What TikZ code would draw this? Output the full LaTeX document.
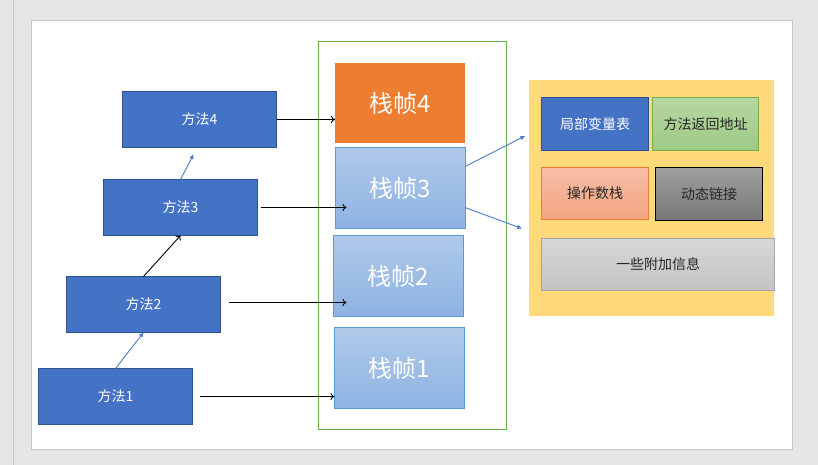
\documentclass[tikz,border=0pt]{standalone}
\usepackage{fontspec}
\setmainfont{Noto Sans CJK SC}
\usetikzlibrary{arrows.meta}
\definecolor{bggray}{HTML}{E6E6E6}
\definecolor{pageline}{HTML}{C8C8C8}
\definecolor{mblue}{HTML}{4472C4}
\definecolor{mborder}{HTML}{2F528F}
\definecolor{fgreen}{HTML}{70AD47}
\definecolor{forange}{HTML}{ED7D31}
\definecolor{ftop}{HTML}{AFC9E9}
\definecolor{fbot}{HTML}{8EB3E2}
\definecolor{fborder}{HTML}{5B9BD5}
\definecolor{infoyellow}{HTML}{FFD97A}
\definecolor{gtop}{HTML}{B6D7A3}
\definecolor{gbot}{HTML}{9ECA84}
\definecolor{otop}{HTML}{F7BEA6}
\definecolor{obot}{HTML}{F3A481}
\definecolor{dtop}{HTML}{A0A0A0}
\definecolor{dbot}{HTML}{777777}
\definecolor{ltop}{HTML}{D7D7D7}
\definecolor{lbot}{HTML}{C3C3C3}
\definecolor{lborder}{HTML}{A5A5A5}
\definecolor{arrowblue}{HTML}{4A7BD0}
\tikzset{
  rbox/.style={anchor=north west, inner sep=0pt, outer sep=0pt, line width=1pt, align=center},
  method/.style={rbox, fill=mblue, draw=mborder, text=white, font=\fontsize{14}{16}\selectfont},
  frame/.style={rbox, top color=ftop, bottom color=fbot, draw=fborder, text=white, font=\fontsize{24}{28}\selectfont},
  part/.style={rbox, font=\fontsize{14}{16}\selectfont},
  blackarr/.style={-{To[length=4pt,width=7pt]}, line width=0.9pt, black},
  bluearr/.style={-{Triangle[length=4.5pt,width=4pt]}, line width=0.9pt, arrowblue},
}
\begin{document}
\begin{tikzpicture}[x=1pt,y=-1pt]
\fill[bggray] (0,0) rectangle (818,465);
\useasboundingbox (0,0) rectangle (818,465);
\draw[pageline, line width=1pt] (13.5,0) -- (13.5,465);
\draw[pageline, fill=white, line width=1pt] (31.5,20.5) rectangle (792.5,449.5);
% stack container
\draw[fgreen, line width=1pt] (318.5,41.5) rectangle (506.5,429.5);
% methods
\node[method, minimum width=154pt, minimum height=56pt] (m4) at (122.5,91.5) {方法4};
\node[method, minimum width=154pt, minimum height=56pt] (m3) at (103.5,179.5) {方法3};
\node[method, minimum width=154pt, minimum height=56pt] (m2) at (66.5,276.5) {方法2};
\node[method, minimum width=154pt, minimum height=56pt] (m1) at (38.5,368.5) {方法1};
% frames
\node[rbox, fill=forange, text=white, font=\fontsize{24}{28}\selectfont, minimum width=130pt, minimum height=80pt] (f4) at (335,63.5) {栈帧4};
\node[frame, minimum width=130pt, minimum height=81pt] (f3) at (335.5,147.5) {栈帧3};
\node[frame, minimum width=130pt, minimum height=81pt] (f2) at (333.5,235.5) {栈帧2};
\node[frame, minimum width=130pt, minimum height=81pt] (f1) at (334.5,327.5) {栈帧1};
% info box
\node[rbox, fill=infoyellow, minimum width=245pt, minimum height=236pt] (info) at (529,80) {};
\node[part, fill=mblue, draw=mborder, text=white, minimum width=107pt, minimum height=53pt] (lv) at (541.5,97.5) {局部变量表};
\node[part, top color=gtop, bottom color=gbot, draw=fgreen, text=black!85, minimum width=106pt, minimum height=53pt] (ra) at (652.5,97.5) {方法返回地址};
\node[part, top color=otop, bottom color=obot, draw=forange, text=black!85, minimum width=107pt, minimum height=52pt] (os) at (541.5,167.5) {操作数栈};
\node[part, top color=dtop, bottom color=dbot, draw=black, text=black!85, minimum width=107pt, minimum height=53pt] (dl) at (655.5,167.5) {动态链接};
\node[part, top color=ltop, bottom color=lbot, draw=lborder, text=black!85, minimum width=233pt, minimum height=52pt] (ex) at (541.5,238.5) {一些附加信息};
% method chain arrows
\draw[bluearr] (m1.north) -- (m2.south);
\draw[blackarr] (m2.north) -- (m3.south);
\draw[bluearr] (m3.north) -- ([shift={(-6,7)}]m4.south);
% method -> frame arrows
\draw[blackarr] (m4.east) -- (f4.west |- m4.east);
\draw[blackarr] ([xshift=3pt]m3.east) -- ([xshift=11pt]f3.west |- m3.east);
\draw[blackarr] ([xshift=8pt,yshift=2pt]m2.east) -- ([xshift=13pt,yshift=2pt]f2.west |- m2.east);
\draw[blackarr] ([xshift=7pt]m1.east) -- (f1.west |- m1.east);
% frame3 -> info
\draw[bluearr] ([yshift=21.7pt]f3.east) -- ([shift={(-4,-62)}]info.west);
\draw[bluearr] ([yshift=-19.7pt]f3.east) -- ([shift={(-7.3,30.4)}]info.west);
\end{tikzpicture}
\end{document}
